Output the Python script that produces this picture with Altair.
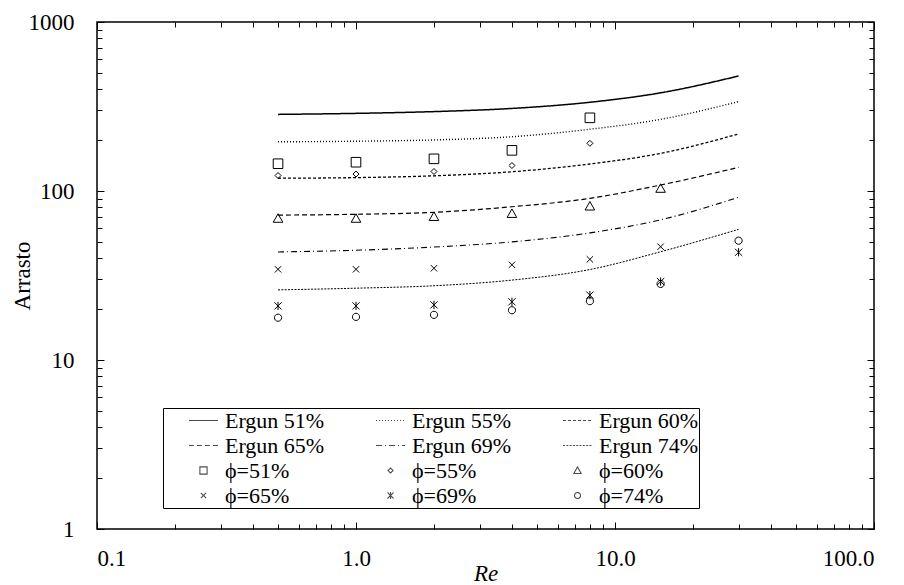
import altair as alt
import pandas as pd

# ---------------- data ----------------
re_vals = [0.5, 1, 2, 4, 8, 15, 30]

ergun_names = ["Ergun 51%", "Ergun 55%", "Ergun 60%", "Ergun 65%", "Ergun 69%", "Ergun 74%"]
ergun_51 = [284, 288, 295, 308, 335, 381, 479]
ergun_55 = [195.5, 197, 200.5, 209.5, 232, 265.5, 338]
ergun_60 = [119, 120, 123, 130, 144.5, 167, 217.5]
ergun_65 = [72, 72.8, 74.8, 80.7, 90.5, 108.5, 138]
ergun_69 = [43.6, 44.6, 46.6, 50, 56.5, 67.5, 91.8]
ergun_74 = [26, 26.6, 27.5, 29.7, 34.3, 43.7, 59.3]

phi_names = ["ϕ=51%", "ϕ=55%", "ϕ=60%", "ϕ=65%", "ϕ=69%", "ϕ=74%"]
phi_51 = [145, 148, 155, 174, 271, None, None]
phi_55 = [123.5, 126, 130.5, 141.5, 191.5, None, None]
phi_60 = [68.8, 68.8, 70.5, 73.5, 81.3, 103.5, None]
phi_65 = [34.4, 34.4, 34.9, 36.6, 39.4, 46.8, None]
phi_69 = [20.9, 20.9, 21.2, 22.1, 24.2, 29.1, 43.4]
phi_74 = [17.8, 18.0, 18.5, 19.7, 22.3, 28.2, 50.8]

x_major = [0.1, 1, 10, 100]
x_minor = [0.2, 0.3, 0.4, 0.5, 0.6, 0.7, 0.8, 0.9,
           2, 3, 4, 5, 6, 7, 8, 9,
           20, 30, 40, 50, 60, 70, 80, 90]
y_major = [1, 10, 100, 1000]
y_minor = [2, 3, 4, 5, 6, 7, 8, 9,
           20, 30, 40, 50, 60, 70, 80, 90,
           200, 300, 400, 500, 600, 700, 800, 900]

# ---------------- styles ----------------
FONT = "'Liberation Serif', 'DejaVu Serif', serif"
dashes = [[1, 0], [1, 2], [3, 2], [5, 3], [6, 3, 1, 3], [2, 1.3]]
line_widths = [1.5, 1.0, 1.1, 1.1, 1.1, 1.1]

SYM = 29.0            # legend symbol box (px); symbol size = SYM**2
UNIT = SYM / 2.0      # px per path unit


def f(v):
    return f"{v / UNIT:.4f}"


def sq(h):
    return f"M{f(-h)},{f(-h)}L{f(h)},{f(-h)}L{f(h)},{f(h)}L{f(-h)},{f(h)}Z"


def dia(h):
    return f"M0,{f(-h)}L{f(h)},0L0,{f(h)}L{f(-h)},0Z"


def tri(w, ht):
    return f"M0,{f(-ht * 0.55)}L{f(w)},{f(ht * 0.45)}L{f(-w)},{f(ht * 0.45)}Z"


def cross(h):
    return f"M{f(-h)},{f(-h)}L{f(h)},{f(h)}M{f(-h)},{f(h)}L{f(h)},{f(-h)}"


def ast(h):
    return cross(h) + f"M0,{f(-h * 1.15)}L0,{f(h * 1.15)}"


def circ(r):
    return f"M{f(-r)},0A{f(r)},{f(r)} 0 1,0 {f(r)},0A{f(r)},{f(r)} 0 1,0 {f(-r)},0Z"


plot_shapes = [sq(4.8), dia(3.0), tri(4.8, 8.5), cross(3.2), ast(3.6), circ(3.6)]
legend_shapes = [sq(3.6), dia(2.5), tri(3.6, 6.5), cross(2.6), ast(3.0), circ(3.0)]

ergun_vals = [ergun_51, ergun_55, ergun_60, ergun_65, ergun_69, ergun_74]
phi_vals = [phi_51, phi_55, phi_60, phi_65, phi_69, phi_74]

line_rows = []
for name, vals in zip(ergun_names, ergun_vals):
    for r, v in zip(re_vals, vals):
        line_rows.append({"Re": r, "value": v, "series": name})
line_df = pd.DataFrame(line_rows)

pt_rows = []
for name, vals in zip(phi_names, phi_vals):
    for r, v in zip(re_vals, vals):
        if v is not None:
            pt_rows.append({"Re": r, "value": v, "series": name})
pt_df = pd.DataFrame(pt_rows)

all_names = ergun_names + phi_names
shape_range = ["stroke"] * 6 + legend_shapes
dash_range = dashes + [[1, 0]] * 6

xs = alt.Scale(type="log", domain=[0.1, 100], nice=False)
ys = alt.Scale(type="log", domain=[1, 1000], nice=False)

MAJ = 7
MIN = 5


def ax(orient, values, size, labels=False, **kw):
    return alt.Axis(orient=orient, values=values, tickSize=size, offset=-size,
                    domain=False, grid=False, labels=labels, tickColor="black",
                    tickWidth=1, **kw)


legend = alt.Legend(
    orient="none", legendX=66, legendY=386, columns=3, direction="horizontal",
    title=None, labelFont=FONT, labelFontSize=22, labelColor="black",
    symbolSize=SYM * SYM, symbolStrokeWidth=1.1, symbolStrokeColor="black",
    symbolFillColor="transparent", symbolOffset=25, labelOffset=6,
    columnPadding=25, rowPadding=0, padding=0, clipHeight=25,
    strokeColor="black", fillColor="white",
)

lines = alt.Chart(line_df).mark_line(color="black", interpolate="monotone").encode(
    x=alt.X("Re:Q", scale=xs,
            axis=ax("bottom", x_major, MAJ, labels=True, format=".1f", title="Re",
                    titleFontStyle="italic", labelPadding=18, titlePadding=-8)),
    y=alt.Y("value:Q", scale=ys,
            axis=ax("left", y_major, MAJ, labels=True, format="d", title="Arrasto",
                    labelPadding=23, titlePadding=-6)),
    strokeDash=alt.StrokeDash("series:N", scale=alt.Scale(domain=ergun_names, range=dashes), legend=None),
    strokeWidth=alt.StrokeWidth("series:N", scale=alt.Scale(domain=ergun_names, range=line_widths), legend=None),
)

points = alt.Chart(pt_df).mark_point(filled=False, color="black", strokeWidth=1, opacity=1,
                                     size=SYM * SYM).encode(
    x=alt.X("Re:Q", scale=xs, axis=ax("bottom", x_minor, MIN, title=None)),
    y=alt.Y("value:Q", scale=ys, axis=ax("left", y_minor, MIN, title=None)),
    shape=alt.Shape("series:N", scale=alt.Scale(domain=phi_names, range=plot_shapes), legend=None),
)

# legend-only layer (no rows drawn) that also carries the top/right major ticks
ghost_major = alt.Chart(pt_df).transform_filter("false").mark_point(
    filled=False, color="black", strokeWidth=1.1).encode(
    x=alt.X("Re:Q", scale=xs, axis=ax("top", x_major, MAJ, title=None)),
    y=alt.Y("value:Q", scale=ys, axis=ax("right", y_major, MAJ, title=None)),
    shape=alt.Shape("series:N", scale=alt.Scale(domain=all_names, range=shape_range), legend=legend),
    strokeDash=alt.StrokeDash("series:N", scale=alt.Scale(domain=all_names, range=dash_range), legend=legend),
)
ghost_minor = alt.Chart(pt_df).transform_filter("false").mark_point(opacity=0).encode(
    x=alt.X("Re:Q", scale=xs, axis=ax("top", x_minor, MIN, title=None)),
    y=alt.Y("value:Q", scale=ys, axis=ax("right", y_minor, MIN, title=None)),
)

chart = alt.layer(lines, points, ghost_major, ghost_minor).resolve_scale(
    x="shared", y="shared", shape="independent",
    strokeDash="independent", strokeWidth="independent"
).resolve_axis(x="independent", y="independent").properties(
    width=777, height=507,
    autosize=alt.AutoSizeParams(type="none"),
    padding={"left": 89, "top": 14, "right": 22, "bottom": 56},
    background="white",
).configure_view(stroke="black", strokeWidth=1.5).configure_axis(
    labelFont=FONT, labelFontSize=23, labelColor="black",
    titleFont=FONT, titleFontSize=23, titleColor="black", titleFontWeight="normal",
)

chart.save("out.html", embed_options={"renderer": "svg", "actions": False})
